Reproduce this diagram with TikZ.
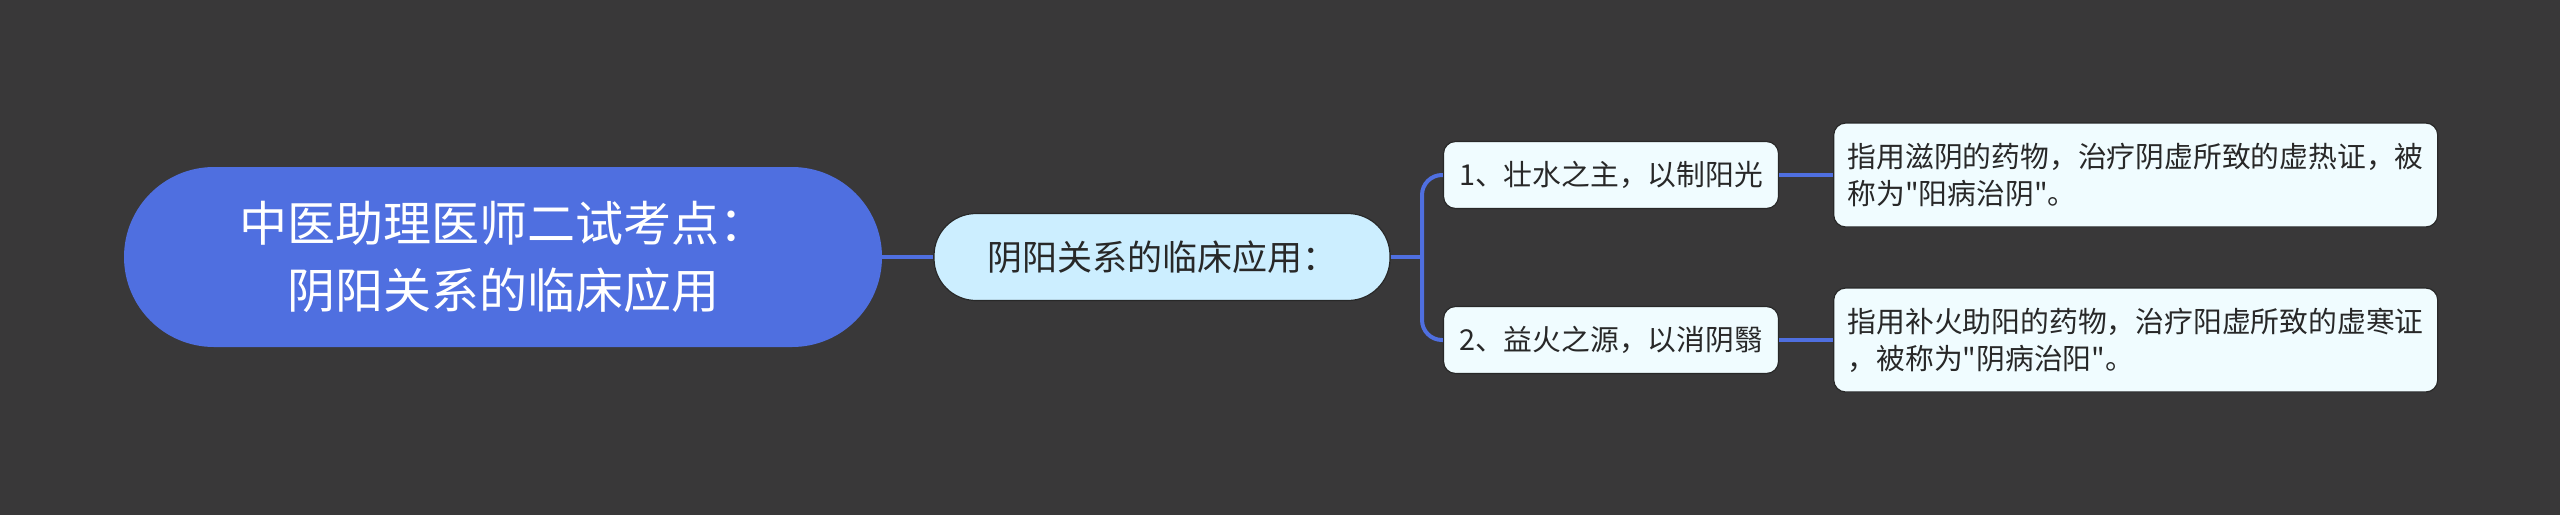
\documentclass[tikz,border=0pt]{standalone}
\usepackage{fontspec}
\newfontfamily\cjkfont{Noto Sans CJK SC}
\usetikzlibrary{positioning}

\definecolor{bgdark}{RGB}{57,56,57}
\definecolor{rootblue}{RGB}{79,111,224}
\definecolor{topicfill}{RGB}{204,238,255}
\definecolor{subfill}{RGB}{240,252,255}
\definecolor{inkdark}{RGB}{40,40,40}

\tikzset{
    rootnode/.style={fill=rootblue, text=white, rounded corners=45pt, minimum width=379pt, minimum height=90pt, align=center, font=\cjkfont\fontsize{24}{33.5}\selectfont},
    topicnode/.style={fill=topicfill, draw=inkdark, line width=0.6pt, rounded corners=21pt, minimum width=228pt, minimum height=43.5pt, text=inkdark, font=\cjkfont\fontsize{17.5}{21}\selectfont},
    subnode/.style={fill=subfill, draw=inkdark, line width=0.6pt, rounded corners=6pt, minimum width=167.5pt, minimum height=33.5pt, text=inkdark, font=\cjkfont\fontsize{14.4}{18.5}\selectfont},
    leafnode/.style={subnode, align=left, inner xsep=7pt, minimum height=52pt},
    link/.style={draw=rootblue, line width=2pt},
}

\begin{document}
\begin{tikzpicture}[x=0.5pt, y=-0.5pt]
    \fill[bgdark] (0,0) rectangle (2560,515);

    \node[rootnode] (root) at (503,257) {中医助理医师二试考点：\\阴阳关系的临床应用};
    \node[topicnode] (topic) at (1162,257) {阴阳关系的临床应用：};
    \node[subnode] (sub1) at (1611,175) {1、壮水之主，以制阳光};
    \node[subnode] (sub2) at (1611,340) {2、益火之源，以消阴翳};
    \node[leafnode, right=27pt of sub1] (leaf1) {指用滋阴的药物，治疗阴虚所致的虚热证，被\\称为"阳病治阴"。};
    \node[leafnode, right=27pt of sub2] (leaf2) {指用补火助阳的药物，治疗阳虚所致的虚寒证\\，被称为"阴病治阳"。};

    \coordinate (fork) at (1422,257);
    \draw[link] (root.east) -- (topic.west);
    \draw[link] (topic.east) -- (fork);
    \draw[link, rounded corners=10pt] (sub1.west) -| (fork) |- (sub2.west);
    \draw[link] (sub1.east) -- (leaf1.west);
    \draw[link] (sub2.east) -- (leaf2.west);
\end{tikzpicture}
\end{document}
